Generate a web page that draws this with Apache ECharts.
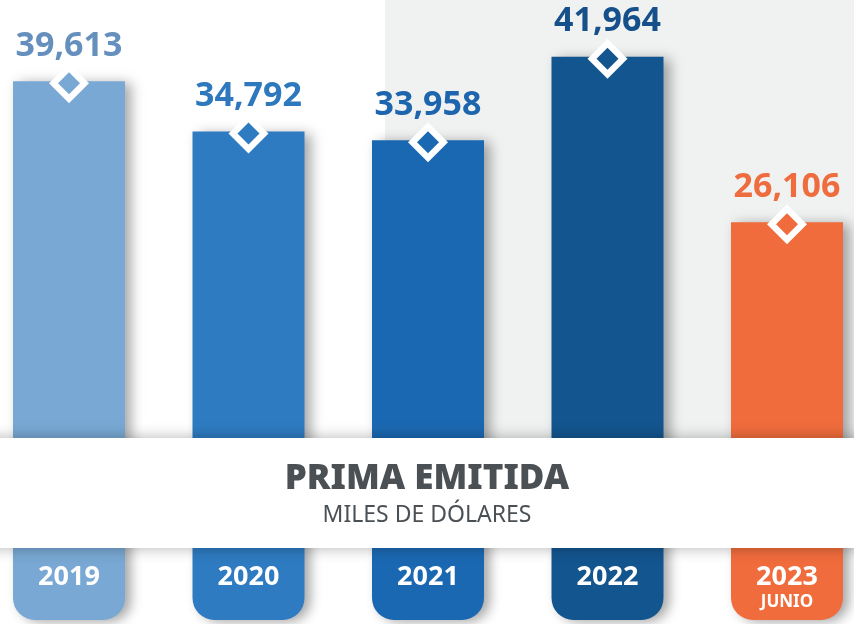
<!DOCTYPE html>
<html>
<head>
<meta charset="utf-8">
<style>
  html, body { margin: 0; padding: 0; background: #fff; }
  #chart { width: 854px; height: 624px; }
</style>
<script src="https://cdn.jsdelivr.net/npm/echarts@6/dist/echarts.min.js"></script>
</head>
<body>
<div id="chart"></div>
<script>
// datos (miles de dólares)
const years = ['2019', '2020', '2021', '2022', '2023']
const subLabels = ['', '', '', '', 'JUNIO']
const prima = [39613, 34792, 33958, 41964, 26106]
// fondo decorativo de cada barra (pestaña bajo la franja blanca)
const TAB = -12000

const barColors = ['#78a8d3', '#2e7bc1', '#1b68b2', '#13558f', '#f06c3c']
const labelColors = ['#6590bd', '#2e78bd', '#1d65ad', '#16508a', '#ee6c3d']
const font = '"Noto Sans", sans-serif'

const chart = echarts.init(document.getElementById('chart'))

const barShadow = {
  shadowColor: 'rgba(0, 0, 0, 0.35)',
  shadowBlur: 12,
  shadowOffsetX: 6,
  shadowOffsetY: 2
}

const option = {
  animation: false,
  grid: { left: 69, right: 67, top: 0, bottom: 4 },
  xAxis: {
    type: 'category',
    data: years,
    boundaryGap: false,
    show: false
  },
  yAxis: {
    type: 'value',
    min: -12000,
    max: 47400,
    show: false
  },
  graphic: [
    {
      type: 'rect',
      z: -10,
      silent: true,
      shape: { x: 385, y: 0, width: 469, height: 440 },
      style: { fill: '#f0f1f1' }
    },
    {
      type: 'rect',
      z: 100,
      silent: true,
      shape: { x: -20, y: 438, width: 900, height: 110 },
      style: {
        fill: '#ffffff',
        shadowColor: 'rgba(0, 0, 0, 0.3)',
        shadowBlur: 14
      }
    },
    {
      type: 'text',
      z: 101,
      silent: true,
      x: 427,
      y: 479,
      style: {
        text: 'PRIMA EMITIDA',
        fill: '#4b5055',
        font: '900 35px ' + font,
        align: 'center',
        verticalAlign: 'middle'
      }
    },
    {
      type: 'text',
      z: 101,
      silent: true,
      x: 427,
      y: 515,
      style: {
        text: 'MILES DE DÓLARES',
        fill: '#4b5055',
        font: '400 23px ' + font,
        align: 'center',
        verticalAlign: 'middle'
      }
    }
  ],
  series: [
    {
      name: 'tab',
      type: 'bar',
      stack: 'a',
      barWidth: 112,
      z: 2,
      data: years.map((y, i) => ({
        value: TAB,
        itemStyle: Object.assign({ color: barColors[i], borderRadius: [0, 0, 22, 22] }, barShadow)
      })),
      label: {
        show: true,
        position: 'insideBottom',
        distance: 8,
        formatter: (p) => '{y|' + years[p.dataIndex] + '}\n{s|' + (subLabels[p.dataIndex] || ' ') + '}',
        rich: {
          y: { fontFamily: font, fontWeight: 'bold', fontSize: 27, color: '#fff', lineHeight: 30, align: 'center' },
          s: { fontFamily: font, fontWeight: 'bold', fontSize: 17, color: '#fff', lineHeight: 20, align: 'center' }
        }
      }
    },
    {
      name: 'Prima emitida',
      type: 'bar',
      stack: 'a',
      barWidth: 112,
      z: 2,
      data: prima.map((v, i) => ({
        value: v,
        itemStyle: Object.assign({ color: barColors[i] }, barShadow)
      }))
    },
    {
      name: 'marco',
      type: 'scatter',
      symbol: 'diamond',
      symbolSize: 40,
      symbolOffset: [0, 2],
      z: 5,
      itemStyle: { color: '#ffffff', opacity: 1 },
      data: prima.map((v, i) => ({
        value: v,
        label: { color: labelColors[i] }
      })),
      label: {
        show: true,
        position: 'inside',
        offset: [0, -37],
        opacity: 1,
        fontFamily: font,
        fontWeight: 'bold',
        fontSize: 34,
        formatter: (p) => p.value.toLocaleString('en-US')
      }
    },
    {
      name: 'punto',
      type: 'scatter',
      symbol: 'diamond',
      symbolSize: 22,
      symbolOffset: [0, 2],
      z: 6,
      data: prima.map((v, i) => ({
        value: v,
        itemStyle: { color: barColors[i], opacity: 1 }
      }))
    }
  ]
}

chart.setOption(option)
</script>
</body>
</html>
